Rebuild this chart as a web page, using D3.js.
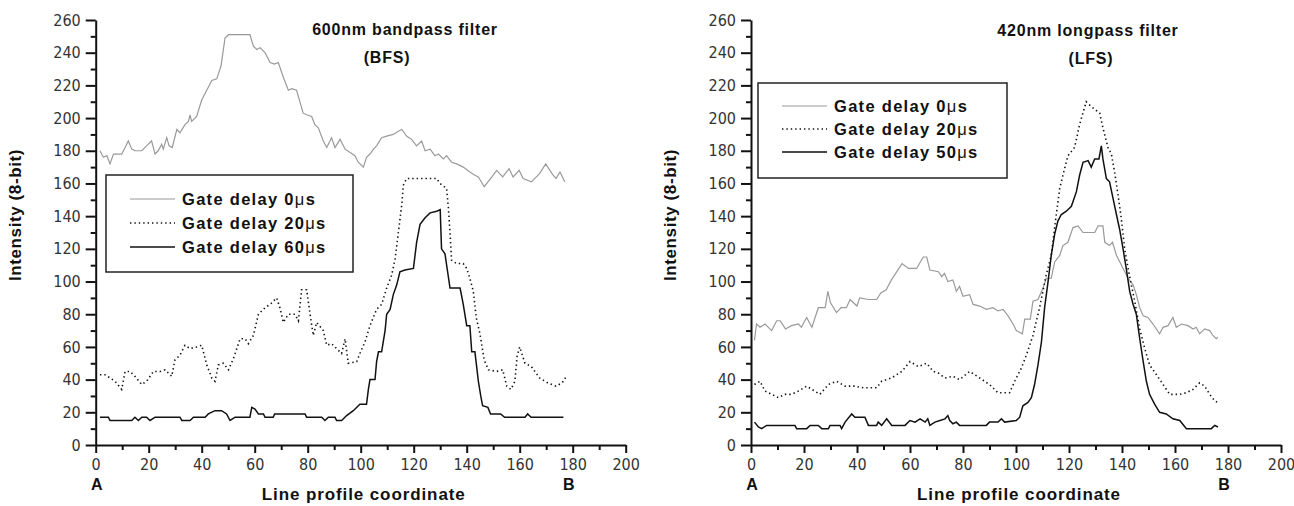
<!DOCTYPE html>
<html>
<head>
<meta charset="utf-8">
<script src="https://cdn.jsdelivr.net/npm/d3@7"></script>
<style>
  body { margin: 0; background: #fff; }
  svg { display: block; }
  .tick text { font-family: "Liberation Sans Narrow", "Arial Narrow", "DejaVu Sans Condensed", sans-serif; font-size: 16px; fill: #333; }
  .tick line, .domain { stroke: #111; stroke-width: 2px; }
  .lbl { font-family: "Liberation Sans", Arial, sans-serif; font-weight: bold; fill: #111; }
</style>
</head>
<body>
<svg id="chart" width="1294" height="506"></svg>
<script>
// axis ticks
const xTicks = d3.range(0, 201, 20);
const xMinor = d3.range(10, 200, 20);
const yTicks = d3.range(0, 261, 20);
const yMinor = d3.range(10, 260, 20);

const seriesNames = ['Gate delay 0', 'Gate delay 20', 'Gate delay 60'];
const seriesNamesLfs = ['Gate delay 0', 'Gate delay 20', 'Gate delay 50'];

// 600nm bandpass filter (BFS): [coordinate, intensity]
const bfs0 = [[1.6,180],[2.9,176],[4.2,177],[5.4,172],[6.7,178],[9.8,178],[11.1,182],[12.3,186],[13.6,181],[14.8,180],[17.4,180],[19.2,183],[21.1,186],[22.4,178],[23.6,180],[24.9,184],[25.5,181],[26.8,188],[27.7,183],[28.9,182],[30.6,193],[31.8,191],[33.7,196],[35,198],[35.6,202],[36.2,198],[38.1,201],[40,211],[41.9,217],[43.8,223],[45.7,224],[47.3,232],[48.8,249],[50.1,251],[58.2,251],[59.5,244],[60.8,242],[62,243],[63.9,240],[65.8,234],[67.4,233],[68.9,234],[70.8,225],[72.7,217],[74,218],[75.8,217],[78.3,203],[79.6,202],[81.5,201],[82.7,196],[84,194],[85.9,186],[87.2,182],[89,188],[90.3,182],[92.2,187],[94.1,181],[96,179],[97.8,177],[99.1,173],[101,170],[102.2,176],[103.5,178],[104.8,181],[106,183],[107.9,188],[109.8,189],[112.3,190],[114.2,192],[115.5,193],[117.3,189],[119.2,187],[121.1,183],[123,186],[124.3,180],[126.2,181],[128,177],[129.3,178],[131.2,175],[132.4,177],[134.3,173],[136.2,172],[138.7,170],[141.2,167],[143.1,165],[144.4,164],[146.6,158],[149,163],[151.3,168],[153.6,164],[156,169],[157.5,164],[159.8,168],[161.3,163],[164.4,161],[167.5,166],[169.8,172],[172.2,166],[173.7,163],[175.2,167],[177,161]];
const bfs20 = [[1.6,43],[3.5,43],[5.4,41],[7.3,39],[9.8,34],[11.1,45],[13,45],[14.8,42],[17.4,37],[19.2,39],[21.8,45],[24.3,45],[26.2,46],[28.7,42],[29.9,52],[31.8,55],[33.7,61],[35.6,59],[38.1,60],[40,61],[41.9,49],[43.8,41],[45,39],[46.3,49],[48.2,50],[50.1,46],[52,53],[54.5,65],[56.4,65],[57.6,62],[59.5,67],[61.4,80],[63.9,84],[65.8,86],[68.3,90],[69.5,84],[70.8,75],[72.7,80],[75.2,80],[76.5,76],[77.7,95],[79.6,95],[80.9,80],[82.1,67],[83.4,75],[85.9,70],[87.2,61],[89,62],[90.9,59],[92.8,56],[94.1,65],[95.3,50],[98.5,51],[99.7,56],[101.6,63],[103.5,73],[106,83],[107.9,86],[109.8,96],[111.7,104],[113,114],[114.2,130],[115.5,147],[116.1,159],[117.3,163],[128.7,163],[129.9,160],[132.4,157],[133.1,145],[133.7,130],[134.3,113],[136.2,111],[138.7,111],[140,108],[141.2,102],[142.5,94],[143.6,78],[145,68],[146.6,52],[148.2,46],[151.3,45],[153.6,46],[155.1,36],[156.7,34],[158.2,39],[159,54],[160,60],[162,50],[164.4,48],[167.5,41],[170.6,38],[173.7,36],[176,38],[177.6,42]];
const bfs60 = [[1.6,17],[4.8,17],[5.4,15],[13.6,15],[14.8,17],[16.1,15],[17.4,17],[19.2,17],[20.5,15],[22.4,17],[31.8,17],[32.5,15],[35.6,15],[36.9,17],[41.3,17],[42.5,19],[45,21],[47.5,21],[49.4,19],[50.7,15],[52.6,17],[58.2,17],[58.9,23],[60.1,22],[61.4,19],[63.3,19],[63.9,17],[67,17],[67.5,19],[79,19],[79.6,17],[85.3,17],[86.5,15],[87.8,17],[90.3,17],[90.9,15],[92.8,15],[94.7,18],[97.2,21],[99.7,25],[102.2,25],[102.9,34],[103.5,40],[105.4,40],[106,51],[106.7,57],[107.9,57],[109.2,70],[109.8,80],[111.1,83],[112.3,92],[113.6,98],[114.8,106],[116.7,107],[119.9,108],[121.1,124],[122.4,135],[124.3,139],[126.2,142],[128.7,143],[130,144],[130.5,120],[131.8,117],[133.7,96],[137.5,96],[138.7,86],[140,73],[141.2,73],[141.9,57],[143.1,57],[144.4,39],[145.3,30],[146,24],[148,23],[149,19],[152.8,19],[154.3,17],[162,17],[163,19],[164.3,17],[176.5,17]];

// 420nm longpass filter (LFS): [coordinate, intensity]
const lfs0 = [[1.3,64],[2.1,74],[3.4,72],[5.3,74],[7.8,70],[9.7,76],[11,76],[13,71],[15.3,73],[17.9,74],[19,72],[21,78],[23,72],[25.4,84],[28,84],[29,94],[30,87],[32.3,81],[34,84],[36,84],[37.4,89],[40,85],[41,90],[44.3,89],[47.4,89],[49,93],[51,95],[53,101],[57,111],[59.4,108],[62.5,108],[65,115],[66.3,115],[67.5,107],[70.7,106],[72,103],[73,105],[74.3,100],[76.2,101],[77.5,94],[78.7,97],[80,91],[82.5,92],[83.8,86],[86.3,85],[88.8,83],[91.3,84],[93.2,82],[95.1,83],[97,79],[98.9,74],[100.1,70],[102.4,68],[103.3,77],[105.4,77],[106.4,88],[108.3,89],[110.2,96],[111.4,102],[113.3,102],[114.6,112],[116.5,116],[117.7,122],[119.6,124],[121.5,133],[123.4,134],[125.3,130],[129.7,130],[131,134],[132.8,134],[133.5,124],[135.3,122],[136.4,124],[137.9,116],[140.4,108],[142.3,102],[144.2,98],[145.4,92],[146.7,84],[148,79],[149.8,78],[151.7,74],[154.2,68],[155.5,72],[157.4,73],[159.2,78],[160.5,72],[162.4,74],[164.9,73],[166.8,71],[168,72],[169.3,68],[171.2,71],[173.1,70],[174.3,67],[175.6,65],[176.2,66]];
const lfs20 = [[1.3,37],[3.4,39],[5.3,33],[7.8,31],[10.3,29],[12.8,31],[15.3,31],[17.9,33],[21,36],[23,34],[26,31],[29.2,37],[32.3,39],[35.5,36],[39.2,36],[42.4,35],[47.4,35],[49.3,39],[53,41],[56.9,45],[60,51],[63.1,48],[66.3,50],[68.8,45],[70.7,44],[73.2,41],[76.2,42],[78.7,40],[82.5,45],[86.3,41],[90,37],[93.2,32],[97.6,32],[99.5,39],[102,47],[103.9,55],[106.4,67],[108.9,84],[111.4,104],[113.3,116],[115.2,141],[116.5,157],[117.7,165],[119.6,177],[122.1,182],[124,196],[126.5,210],[128.4,207],[131.6,203],[132.8,194],[134.7,182],[136,178],[137.2,167],[138.5,153],[139.7,139],[141,120],[142.3,108],[143.5,98],[144.8,88],[146.7,71],[148.6,59],[150.4,49],[153,43],[155.5,37],[158,31],[161.8,31],[164.3,32],[166.8,34],[169.3,38],[171.2,36],[173.1,31],[175,27],[176.2,26]];
const lfs50 = [[1.3,14],[2.8,11],[4,10],[5.9,12],[16.6,12],[17.2,10],[21,10],[22.3,12],[25.4,12],[26.7,10],[29.2,10],[29.8,12],[33.6,12],[34.2,10],[35.5,14],[38,19],[39.2,17],[43,17],[44.3,12],[47.4,12],[48,14],[49.3,12],[51.2,16],[53.1,12],[58.1,12],[60,15],[61.9,14],[63.8,16],[65.7,14],[66.7,16],[67.5,12],[69.4,14],[71.3,15],[73.2,16],[74.3,18],[75,15],[76.2,13],[77.5,14],[78.7,12],[88.8,12],[90,14],[93.2,14],[94.5,16],[95.7,14],[100.1,15],[101.4,17],[102.6,24],[104.5,26],[105.8,29],[107,37],[108.3,49],[109.6,63],[110.8,84],[112.1,100],[113.3,116],[114.6,129],[115.8,137],[117.1,141],[119,143],[120.9,146],[122.8,155],[124,165],[125.3,173],[127.2,174],[128.4,170],[129.7,175],[131.3,175],[132.2,183],[132.8,175],[134.1,163],[135.3,161],[136.6,151],[137.9,141],[139.1,132],[140.4,120],[141.6,108],[142.9,94],[144.2,86],[145.4,80],[146.7,65],[148,51],[149.2,39],[150.4,31],[152.3,25],[154.2,20],[156.7,19],[159.2,16],[161.8,15],[164.3,10],[173.7,10],[175,12],[176.2,11]];

const styles = [
  { stroke: '#9a9a9a', width: 1.2, dash: null },
  { stroke: '#111', width: 1.6, dash: '1.4,3' },
  { stroke: '#111', width: 1.5, dash: null },
];

const panels = [
  { left: 95.7, series: [bfs0, bfs20, bfs60], names: seriesNames,
    title: '600nm bandpass filter', sub: '(BFS)', titleX: 405, titleY: 35, subX: 387, subY: 63,
    legend: { x: 106, y: 175, w: 247, h: 97, rows: [199, 223, 247] } },
  { left: 751, series: [lfs0, lfs20, lfs50], names: seriesNamesLfs,
    title: '420nm longpass filter', sub: '(LFS)', titleX: 1088, titleY: 36, subX: 1091, subY: 64,
    legend: { x: 758, y: 83, w: 249, h: 95, rows: [106, 129, 152] } },
];

const svg = d3.select('#chart');
const plotTop = 20, plotBottom = 445;

const drawPanel = (p) => {
  const x = d3.scaleLinear().domain([0, 200]).range([p.left, p.left + 530]);
  const y = d3.scaleLinear().domain([0, 260]).range([plotBottom, plotTop]);
  const g = svg.append('g');

  // minor ticks
  g.append('g')
    .attr('transform', `translate(0,${plotBottom})`)
    .call(d3.axisBottom(x).tickValues(xMinor).tickSize(5).tickFormat(''))
    .call(a => a.select('.domain').remove());
  g.append('g')
    .attr('transform', `translate(${p.left},0)`)
    .call(d3.axisLeft(y).tickValues(yMinor).tickSize(5).tickFormat(''))
    .call(a => a.select('.domain').remove());

  g.append('g')
    .attr('transform', `translate(0,${plotBottom})`)
    .call(d3.axisBottom(x).tickValues(xTicks).tickSize(8).tickSizeOuter(0).tickPadding(6));
  g.append('g')
    .attr('transform', `translate(${p.left},0)`)
    .call(d3.axisLeft(y).tickValues(yTicks).tickSize(10).tickSizeOuter(0).tickPadding(5));

  const line = d3.line().x(d => x(d[0])).y(d => y(d[1]));
  p.series.forEach((s, i) => {
    g.append('path')
      .datum(s)
      .attr('d', line)
      .attr('fill', 'none')
      .attr('stroke', styles[i].stroke)
      .attr('stroke-width', styles[i].width)
      .attr('stroke-dasharray', styles[i].dash);
  });

  // legend
  const lg = g.append('g');
  lg.append('rect')
    .attr('x', p.legend.x).attr('y', p.legend.y)
    .attr('width', p.legend.w).attr('height', p.legend.h)
    .attr('fill', '#fff').attr('stroke', '#222').attr('stroke-width', 1.5);
  p.names.forEach((name, i) => {
    const ry = p.legend.rows[i];
    lg.append('line')
      .attr('x1', p.legend.x + 24).attr('x2', p.legend.x + 69)
      .attr('y1', ry).attr('y2', ry)
      .attr('stroke', styles[i].stroke)
      .attr('stroke-width', styles[i].width)
      .attr('stroke-dasharray', styles[i].dash);
    const t = lg.append('text')
      .attr('class', 'lbl')
      .attr('x', p.legend.x + 76).attr('y', ry + 6)
      .attr('font-size', 16.5).attr('letter-spacing', 1.3);
    t.append('tspan').text(name);
    t.append('tspan').attr('font-weight', 'normal').text('\u03bc');
    t.append('tspan').text('s');
  });

  // titles
  g.append('text').attr('class', 'lbl')
    .attr('x', p.titleX).attr('y', p.titleY)
    .attr('text-anchor', 'middle').attr('font-size', 16).attr('letter-spacing', 0.8)
    .text(p.title);
  g.append('text').attr('class', 'lbl')
    .attr('x', p.subX).attr('y', p.subY)
    .attr('text-anchor', 'middle').attr('font-size', 16).attr('letter-spacing', 0.8)
    .text(p.sub);

  // axis titles
  g.append('text').attr('class', 'lbl')
    .attr('transform', `translate(${p.left - 75},215) rotate(-90)`)
    .attr('text-anchor', 'middle').attr('font-size', 17).attr('letter-spacing', 0.6)
    .text('Intensity (8-bit)');
  g.append('text').attr('class', 'lbl')
    .attr('x', x(100) + 3).attr('y', 500)
    .attr('text-anchor', 'middle').attr('font-size', 17).attr('letter-spacing', 0.9)
    .text('Line profile coordinate');
  g.append('text').attr('class', 'lbl')
    .attr('x', x(0) + 1).attr('y', 490)
    .attr('text-anchor', 'middle').attr('font-size', 16)
    .text('A');
  g.append('text').attr('class', 'lbl')
    .attr('x', x(178.5)).attr('y', 490)
    .attr('text-anchor', 'middle').attr('font-size', 16)
    .text('B');
};

panels.forEach(drawPanel);
</script>
</body>
</html>
